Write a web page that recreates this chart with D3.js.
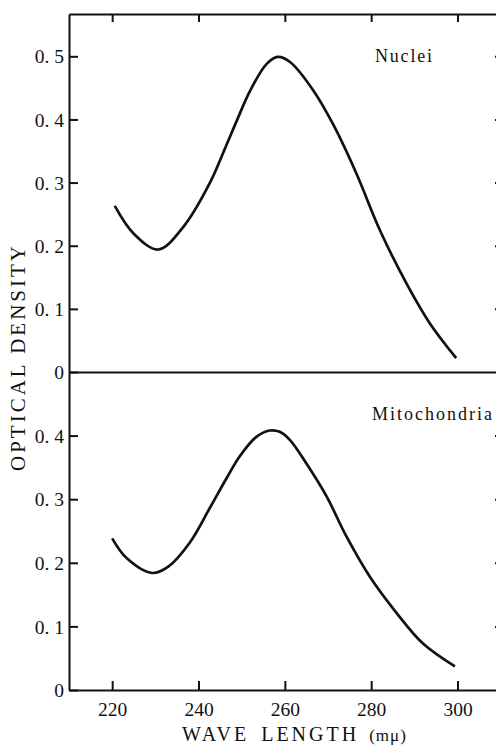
<!DOCTYPE html>
<html>
<head>
<meta charset="utf-8">
<script src="https://cdn.jsdelivr.net/npm/d3@7"></script>
<style>
  body { margin: 0; background: #fff; }
  svg { display: block; }
  text { font-family: "Liberation Serif", "DejaVu Serif", serif; fill: #111; }
  .domain, .tick line { stroke: #111; stroke-width: 2; }
</style>
</head>
<body>
<div id="chart"></div>
<script>
var width = 496,
    height = 746;

// data
var waveTicks = [220, 240, 260, 280, 300];
var nucleiTicks = [0, 0.1, 0.2, 0.3, 0.4, 0.5];
var mitoTicks = [0, 0.1, 0.2, 0.3, 0.4];

var nucleiWave = [220.6, 225, 230.7, 236.5, 242.6, 246.5, 248.8, 252, 255.8, 258.4, 261.2, 266.6, 271.2, 276.6, 282, 288.2, 293.6, 299.7];
var nucleiOD   = [0.263, 0.219, 0.194, 0.230, 0.299, 0.360, 0.397, 0.446, 0.488, 0.499, 0.491, 0.446, 0.392, 0.314, 0.225, 0.140, 0.077, 0.022];

var mitoWave = [220, 223.4, 229.3, 233, 238, 242.6, 246.5, 249.6, 253.4, 256.5, 258.8, 261.2, 265, 269.7, 274.3, 279.7, 285.9, 292, 299.4];
var mitoOD   = [0.2385, 0.207, 0.184, 0.194, 0.232, 0.286, 0.333, 0.368, 0.398, 0.408, 0.406, 0.393, 0.356, 0.304, 0.241, 0.178, 0.121, 0.073, 0.037];

var x = d3.scaleLinear().domain([210, 311]).range([69, 505]);
var yTop = d3.scaleLinear().domain([0, 0.567]).range([372, 14]);
var yBot = d3.scaleLinear().domain([0, 0.5]).range([690, 372]);

var fmt = function(d) {
  return d === 0 ? "0" : d3.format(".1f")(d).replace(".", ". ");
};

var svg = d3.select("#chart").append("svg")
    .attr("width", width)
    .attr("height", height);

// left axes
svg.append("g")
    .attr("transform", "translate(" + x.range()[0] + ",0)")
    .call(d3.axisLeft(yTop).tickValues(nucleiTicks).tickFormat(fmt)
      .tickSizeInner(-9).tickSizeOuter(0).tickPadding(5))
    .call(styleTicks);

svg.append("g")
    .attr("transform", "translate(" + x.range()[0] + ",0)")
    .call(d3.axisLeft(yBot).tickValues(mitoTicks).tickFormat(fmt)
      .tickSizeInner(-9).tickSizeOuter(0).tickPadding(5))
    .call(styleTicks);

// right axes, ticks only
[[yTop, nucleiTicks], [yBot, mitoTicks]].forEach(function(p) {
  svg.append("g")
      .attr("transform", "translate(" + x.range()[1] + ",0)")
      .call(d3.axisRight(p[0]).tickValues(p[1].filter(function(d) { return d > 0; }))
        .tickFormat("").tickSizeInner(-10).tickSizeOuter(0));
});

// top border with ticks
svg.append("g")
    .attr("transform", "translate(0," + yTop.range()[1] + ")")
    .call(d3.axisTop(x).tickValues(waveTicks).tickFormat("")
      .tickSizeInner(-8).tickSizeOuter(0));

// middle line
svg.append("g")
    .attr("transform", "translate(0," + yTop(0) + ")")
    .call(d3.axisBottom(x).tickValues([]).tickSizeOuter(0));

// bottom axis
svg.append("g")
    .attr("transform", "translate(0," + yBot(0) + ")")
    .call(d3.axisBottom(x).tickValues(waveTicks)
      .tickSizeInner(-9).tickSizeOuter(0).tickPadding(12))
    .call(function(g) {
      g.selectAll("text").style("font-size", "19.5px");
    });

function styleTicks(g) {
  g.selectAll("text").style("font-size", "19.5px").attr("dy", "0.34em");
}

// curves
var line = function(ys) {
  return d3.line()
    .x(function(d) { return x(d[0]); })
    .y(function(d) { return ys(d[1]); })
    .curve(d3.curveCatmullRom.alpha(0.5));
};

svg.append("path")
    .datum(d3.zip(nucleiWave, nucleiOD))
    .attr("fill", "none")
    .attr("stroke", "#111")
    .attr("stroke-width", 2.7)
    .attr("d", line(yTop));

svg.append("path")
    .datum(d3.zip(mitoWave, mitoOD))
    .attr("fill", "none")
    .attr("stroke", "#111")
    .attr("stroke-width", 2.7)
    .attr("d", line(yBot));

// panel labels
svg.append("text")
    .attr("x", 375).attr("y", 62)
    .style("font-size", "18px")
    .style("letter-spacing", "1.8px")
    .text("Nuclei");

svg.append("text")
    .attr("x", 372).attr("y", 420)
    .style("font-size", "18px")
    .style("letter-spacing", "2px")
    .text("Mitochondria");

// axis titles
var xt = svg.append("text")
    .attr("x", 182).attr("y", 741)
    .style("font-size", "20px")
    .style("letter-spacing", "3px");
xt.append("tspan").text("WAVE");
xt.append("tspan").attr("dx", 12).text("LENGTH");
xt.append("tspan").attr("dx", 10).style("font-size", "17px")
    .style("letter-spacing", "1px").text("(mμ)");

svg.append("text")
    .attr("transform", "translate(25,357) rotate(-90)")
    .attr("text-anchor", "middle")
    .style("font-size", "21px")
    .style("letter-spacing", "3px")
    .text("OPTICAL DENSITY");
</script>
</body>
</html>
